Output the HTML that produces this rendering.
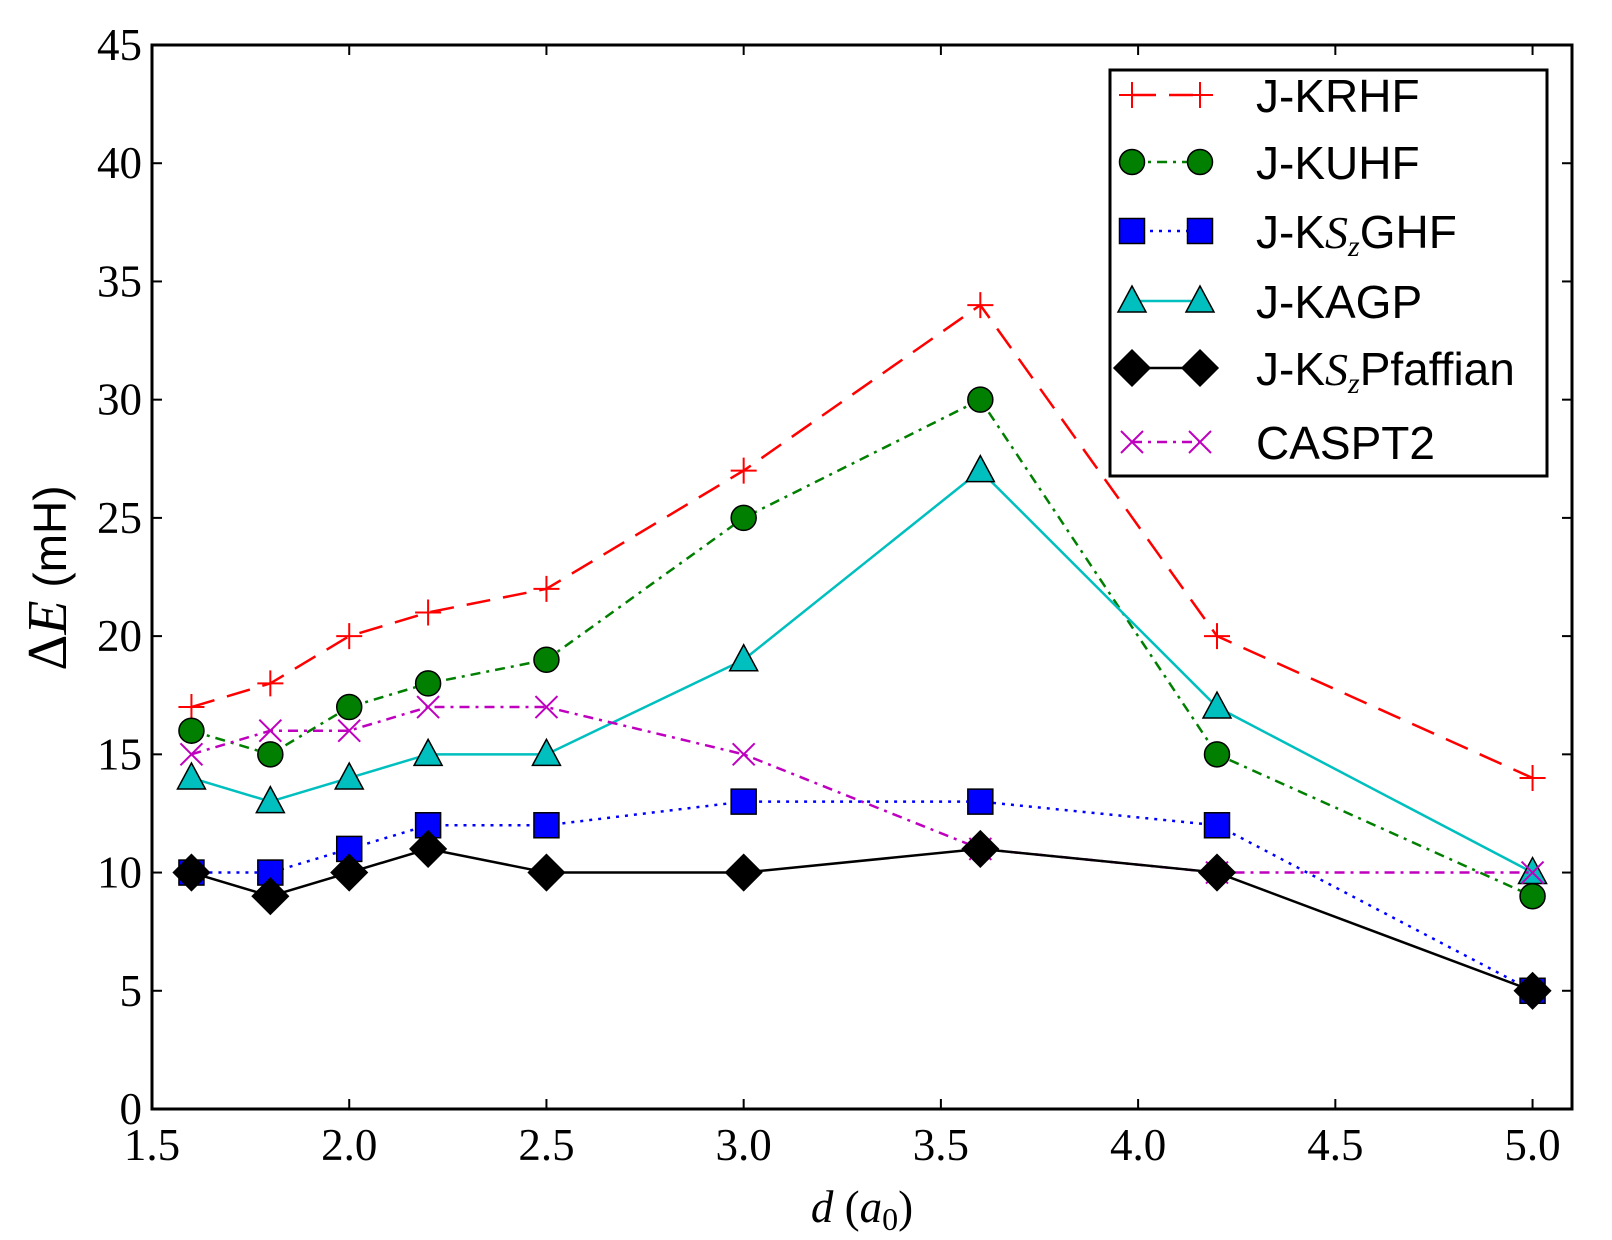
<!DOCTYPE html>
<html><head><meta charset="utf-8"><style>
body{margin:0;background:#fff;}
svg{display:block;}
.tk{font-family:"Liberation Serif",serif;font-size:45px;fill:#000;}
.lg{font-family:"Liberation Sans",sans-serif;font-size:46px;fill:#000;}
</style></head><body>
<svg id="chart" width="1612" height="1240" viewBox="0 0 1612 1240" xmlns="http://www.w3.org/2000/svg">
<g id="plot"></g>
</svg>
<script>
const xs=[1.6,1.8,2.0,2.2,2.5,3.0,3.6,4.2,5.0];
const krhf=[17,18,20,21,22,27,34,20,14];
const kuhf=[16,15,17,18,19,25,30,15,9];
const ksz=[10,10,11,12,12,13,13,12,5];
const kagp=[14,13,14,15,15,19,27,17,10];
const pfaff=[10,9,10,11,10,10,11,10,5];
const caspt2=[15,16,16,17,17,15,11,10,10];
const xTicks=["1.5","2.0","2.5","3.0","3.5","4.0","4.5","5.0"];
const yTicks=["0","5","10","15","20","25","30","35","40","45"];
const X0=152,X1=1572,Y0=1109,Y1=45,xmin=1.5,xmax=5.1,ymin=0,ymax=45;
const sx=v=>X0+(v-xmin)/(xmax-xmin)*(X1-X0);
const sy=v=>Y0-(v-ymin)/(ymax-ymin)*(Y0-Y1);
const NS="http://www.w3.org/2000/svg";
const g=document.getElementById('plot');
function mk(t,a,p){const e=document.createElementNS(NS,t);for(const k in a)e.setAttribute(k,a[k]);(p||g).appendChild(e);return e;}
xTicks.forEach(t=>{const v=parseFloat(t),x=sx(v);
 let l=mk('line',{x1:x,x2:x,y1:Y0,y2:Y0-10,stroke:'#000','stroke-width':2});
 
 
 l=mk('line',{x1:x,x2:x,y1:Y1,y2:Y1+10,stroke:'#000','stroke-width':2});
 
 
 const tx=mk('text',{x:x,y:Y0+51,'text-anchor':'middle',class:'tk'});tx.textContent=t;
 
 
});
yTicks.forEach(t=>{const v=parseFloat(t),y=sy(v);
 let l=mk('line',{x1:X0,x2:X0+10,y1:y,y2:y,stroke:'#000','stroke-width':2});
 
 
 l=mk('line',{x1:X1,x2:X1-10,y1:y,y2:y,stroke:'#000','stroke-width':2});
 
 
 const tx=mk('text',{x:X0-10,y:y+15,'text-anchor':'end',class:'tk'});tx.textContent=t;
 
 
});
function marker(type,x,y,color,p){
 if(type==='plus'){const s=13;mk('path',{d:`M${x-s},${y}H${x+s}M${x},${y-s}V${y+s}`,stroke:color,'stroke-width':2,fill:'none'},p);}
 else if(type==='x'){const s=11;mk('path',{d:`M${x-s},${y-s}L${x+s},${y+s}M${x-s},${y+s}L${x+s},${y-s}`,stroke:color,'stroke-width':2,fill:'none'},p);}
 else if(type==='circle')mk('circle',{cx:x,cy:y,r:12.5,fill:color,stroke:'#000','stroke-width':1.5},p);
 else if(type==='square')mk('rect',{x:x-12.5,y:y-12.5,width:25,height:25,fill:color,stroke:'#000','stroke-width':1.5},p);
 else if(type==='tri')mk('path',{d:`M${x},${y-15}L${x+14},${y+11}L${x-14},${y+11}Z`,fill:color,stroke:'#000','stroke-width':1.5},p);
 else if(type==='diamond')mk('path',{d:`M${x},${y-18}L${x+18},${y}L${x},${y+18}L${x-18},${y}Z`,fill:color,stroke:'#000','stroke-width':1.5},p);
}
const series=[
 {name:'J-KRHF',vals:krhf,color:'#ff0000',dash:'24,13',m:'plus',mc:'#ff0000'},
 {name:'J-KUHF',vals:kuhf,color:'#007f00',dash:'10,6,3,6',m:'circle',mc:'#007f00'},
 {name:'J-KSzGHF',vals:ksz,color:'#0000ff',dash:'3,6',m:'square',mc:'#0000ff'},
 {name:'J-KAGP',vals:kagp,color:'#00bfbf',dash:'',m:'tri',mc:'#00bfbf'},
 {name:'J-KSzPfaffian',vals:pfaff,color:'#000',dash:'',m:'diamond',mc:'#000'},
 {name:'CASPT2',vals:caspt2,color:'#bf00bf',dash:'10,6,3,6',m:'x',mc:'#bf00bf'}
];
const order=[0,1,3,2,5,4];
order.forEach(i=>{const s=series[i];
 const sg=mk('g',{});
 
 
 const pts=xs.map((x,j)=>sx(x)+','+sy(s.vals[j])).join(' ');
 const pl=mk('polyline',{points:pts,fill:'none',stroke:s.color,'stroke-width':2.5},sg);
 if(s.dash)pl.setAttribute('stroke-dasharray',s.dash);
 xs.forEach((x,j)=>marker(s.m,sx(x),sy(s.vals[j]),s.mc,sg));
});
const fr=mk('rect',{x:X0,y:Y1,width:X1-X0,height:Y0-Y1,fill:'none',stroke:'#000','stroke-width':3});


const lg=mk('g',{});


mk('rect',{x:1110,y:70,width:437,height:406,fill:'#fff',stroke:'#000','stroke-width':3},lg);
const ly=[95,162,231,301,368,442];
const labels=['J-KRHF','J-KUHF','J-K<tspan font-family="Liberation Serif" font-style="italic">S</tspan><tspan font-family="Liberation Serif" font-style="italic" font-size="30" dy="8">z</tspan><tspan dy="-8">GHF</tspan>','J-KAGP','J-K<tspan font-family="Liberation Serif" font-style="italic">S</tspan><tspan font-family="Liberation Serif" font-style="italic" font-size="30" dy="8">z</tspan><tspan dy="-8">Pfaffian</tspan>','CASPT2'];
series.forEach((s,i)=>{
 const e=mk('g',{},lg);
 
 
 const l=mk('line',{x1:1132,x2:1200,y1:ly[i],y2:ly[i],stroke:s.color,'stroke-width':2.5},e);
 if(s.dash)l.setAttribute('stroke-dasharray',s.dash);
 marker(s.m,1132,ly[i],s.mc,e);marker(s.m,1200,ly[i],s.mc,e);
 const t=mk('text',{x:1256,y:ly[i]+17,class:'lg'},e);t.innerHTML=labels[i];
});
const yt=mk('text',{x:0,y:0,transform:'translate(66,578) rotate(-90)','text-anchor':'middle',class:'lg','font-size':'50'});
yt.innerHTML='<tspan font-family="Liberation Serif" font-size="56">Δ</tspan><tspan font-family="Liberation Serif" font-style="italic" font-size="56">E</tspan> (mH)';


const xt=mk('text',{x:862,y:1222,'text-anchor':'middle',class:'tk','font-size':'50'});
xt.innerHTML='<tspan font-style="italic">d</tspan> (<tspan font-style="italic">a</tspan><tspan font-size="32" dy="8">0</tspan><tspan dy="-8">)</tspan>';


</script>
</body></html>
